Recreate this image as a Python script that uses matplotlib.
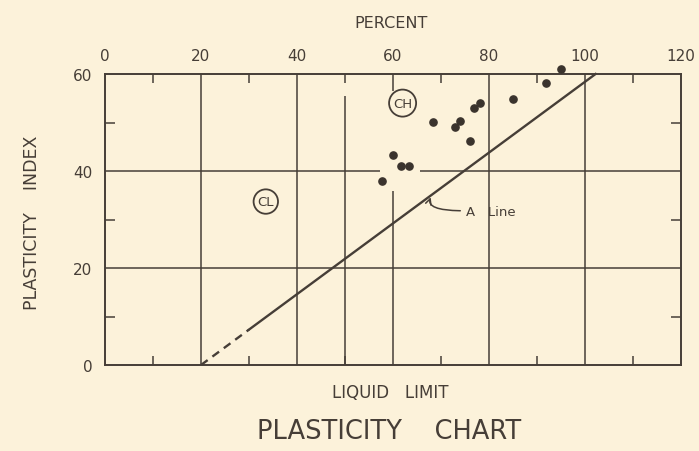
import matplotlib
matplotlib.use("Agg")
import matplotlib.pyplot as plt

# ---- data ----
liquid_limit = [57.8, 60.1, 61.6, 63.3, 68.3, 72.9, 74.0, 76.0, 76.9, 78.1, 84.9, 91.8, 95.1]
plasticity_index = [38.0, 43.3, 41.0, 41.0, 50.2, 49.0, 50.3, 46.2, 53.0, 54.0, 54.9, 58.1, 61.1]

a_line_dashed_x = [20, 30]
a_line_dashed_y = [0, 7.3]
a_line_solid_x = [30, 102.2]
a_line_solid_y = [7.3, 60]

x_major = [0, 20, 40, 60, 80, 100, 120]
x_minor = [10, 30, 50, 70, 90, 110]
y_major = [0, 20, 40, 60]
y_minor = [10, 30, 50]

# grid segments (value, start, end)
v_grid = [(20, 0, 60), (40, 0, 60), (50, 0, 55.4), (60, 0, 35.8), (60, 56.4, 60), (80, 0, 60), (100, 0, 60)]
h_grid = [(20, 0, 120), (40, 0, 57.3), (40, 65.6, 120)]

zone_labels = ["CL", "CH"]
zone_x = [33.5, 62.0]
zone_y = [33.7, 54.0]

BG = "#FCF2DA"
INK = "#463E37"

fig = plt.figure(figsize=(6.99, 4.52), dpi=100, facecolor=BG)
ax = fig.add_axes([105/699, (452-366)/452, (681-105)/699, (366-75)/452])
ax.set_facecolor(BG)
ax.set_xlim(0, 120)
ax.set_ylim(0, 60)

for s in ax.spines.values():
    s.set_color(INK)
    s.set_linewidth(1.4)

for x, y0, y1 in v_grid:
    ax.plot([x, x], [y0, y1], color=INK, lw=1.1, solid_capstyle="butt")
for y, x0, x1 in h_grid:
    ax.plot([x0, x1], [y, y], color=INK, lw=1.1, solid_capstyle="butt")

ax.plot(a_line_dashed_x, a_line_dashed_y, color=INK, lw=1.7, ls=(0, (3.5, 2.5)))
ax.plot(a_line_solid_x, a_line_solid_y, color=INK, lw=1.7, clip_on=False)

ax.plot(liquid_limit, plasticity_index, "o", color="#3A332D", ms=5.2, clip_on=False, zorder=5)

for lab, x, y in zip(zone_labels, zone_x, zone_y):
    ax.text(x, y, lab, ha="center", va="center", fontsize=9.5, color=INK,
            bbox=dict(boxstyle="circle,pad=0.3", fc="none", ec=INK, lw=1.3))

ax.annotate("", xy=(68.1, 35.1), xytext=(74.6, 31.8),
            arrowprops=dict(arrowstyle="->", color=INK, lw=1.1,
                            connectionstyle="angle3,angleA=0,angleB=60"))
ax.text(75.3, 31.6, "A   Line", fontsize=9.5, color=INK, ha="left", va="center")

ax.set_xticks(x_major)
ax.set_xticks(x_minor, minor=True)
ax.set_yticks(y_major)
ax.set_yticks(y_minor, minor=True)
ax.set_xticklabels([str(v) for v in x_major])
ax.set_yticklabels([str(v) for v in y_major])
ax.tick_params(axis="x", which="major", length=0, top=True, bottom=False,
               labeltop=True, labelbottom=False, labelsize=11, labelcolor=INK, pad=8)
ax.tick_params(axis="x", which="minor", direction="in", length=6.5, width=1.1,
               top=True, bottom=True, color=INK)
ax.tick_params(axis="y", which="major", length=0, left=True, labelleft=True,
               labelsize=11, labelcolor=INK, pad=9)
ax.tick_params(axis="y", which="minor", direction="in", length=7, width=1.1,
               left=True, right=True, color=INK)

fig.text(391/699, 1 - 24/452, "PERCENT", ha="center", va="center", fontsize=11.5, color=INK)
fig.text(32/699, 1 - 223/452, "PLASTICITY    INDEX", rotation=90, ha="center", va="center",
         fontsize=12.5, color=INK)
fig.text(390/699, 1 - 393/452, "LIQUID   LIMIT", ha="center", va="center", fontsize=12, color=INK)
fig.text(389/699, 1 - 432/452, "PLASTICITY    CHART", ha="center", va="center", fontsize=18.5, color=INK)

fig.savefig("out.png", dpi=100, facecolor=BG)
